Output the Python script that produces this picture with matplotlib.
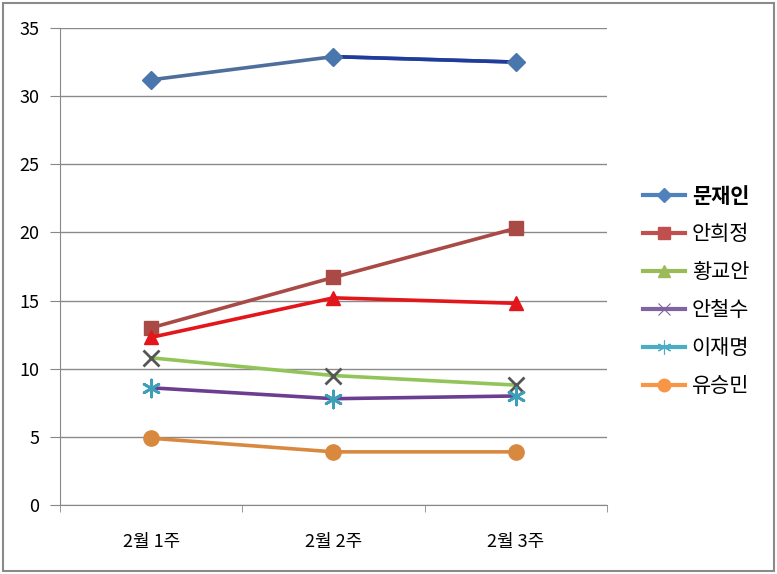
import matplotlib.pyplot as plt
from matplotlib.lines import Line2D
from matplotlib.patches import Rectangle

plt.rcParams['font.family'] = ['Noto Sans CJK KR', 'DejaVu Sans']

weeks = ['2월 1주', '2월 2주', '2월 3주']
names = ['문재인', '안희정', '황교안', '안철수', '이재명', '유승민']

moon = [31.2, 32.9, 32.5]
ahn_hj = [13.0, 16.7, 20.3]
hwang = [12.3, 15.2, 14.8]
ahn_cs = [10.8, 9.5, 8.8]
lee = [8.6, 7.8, 8.0]
yoo = [4.9, 3.9, 3.9]

# legend colours (Excel defaults)
legend_colors = ['#4F81BD', '#C0504D', '#9BBB59', '#8064A2', '#4BACC6', '#F79646']
legend_markers = ['D', 's', '^', 'x', (6, 2, 0), 'o']
legend_ms = [7, 9, 8, 9, 10, 9]
legend_mew = [1, 1, 1, 0.8, 0.8, 1]

fig = plt.figure(figsize=(7.77, 5.74), dpi=100)
ax = fig.add_axes([0.0772, 0.1202, 0.7038, 0.831])
x = list(range(len(weeks)))

lw = 2.6
ax.plot(x, moon, color='#4E6F9C', lw=lw, zorder=5)
ax.plot(x[1:], moon[1:], color='#1F3C9C', lw=lw, zorder=5)
ax.plot(x, moon, ls='none', marker='D', ms=9, mfc='#4A76AE', mec='#4A76AE', zorder=6)
ax.plot(x, ahn_hj, color='#A94A46', lw=lw, marker='s', ms=10, mfc='#A94A46', mec='#A94A46', zorder=4)
ax.plot(x, hwang, color='#E3161B', lw=lw, marker='^', ms=10, mfc='#E3161B', mec='#E3161B', zorder=5)
ax.plot(x, ahn_cs, color='#92C45A', lw=lw, marker='x', ms=11, mew=2, mfc='#555555', mec='#555555', zorder=4)
ax.plot(x, lee, color='#6B3E92', lw=lw, zorder=3)
ax.scatter(x, lee, marker=(6, 2, 0), s=150, color='#3DA0B8', linewidths=2, zorder=6)
ax.plot(x, yoo, color='#D9893F', lw=lw, marker='o', ms=11, mfc='#D9893F', mec='#D9893F', zorder=4)

ax.set_xlim(-0.5, 2.5)
ax.set_ylim(0, 35)
ax.set_yticks(range(0, 36, 5))
ax.set_xticks(x)
ax.set_xticklabels(weeks, fontsize=13)
ax.set_xticks([-0.5, 0.5, 1.5, 2.5], minor=True)
ax.tick_params(axis='x', which='major', length=0, pad=20)
ax.tick_params(axis='x', which='minor', length=5, color='#888888', direction='out')
ax.tick_params(axis='y', length=7, color='#888888', labelsize=13, pad=8)
ax.grid(axis='y', color='#8a8a8a', lw=1)
ax.set_axisbelow(True)
for s in ['top', 'right']:
    ax.spines[s].set_visible(False)
for s in ['left', 'bottom']:
    ax.spines[s].set_color('#888888')

handles = [Line2D([0], [0], color=c, lw=3, marker=m, ms=ms, mew=mw, mfc=c, mec=c)
           for c, m, ms, mw in zip(legend_colors, legend_markers, legend_ms, legend_mew)]
leg = fig.legend(handles, names, loc='upper left', bbox_to_anchor=(0.803, 0.709),
                 frameon=False, fontsize=15, handlelength=2.05, labelspacing=0.77,
                 handletextpad=0.3)
leg.get_texts()[0].set_fontweight('bold')

fig.patches.append(Rectangle((0.004, 0.005), 0.992, 0.99, transform=fig.transFigure,
                             fill=False, edgecolor='#8a8a8a', lw=1.5))

fig.savefig('out.png', dpi=100)
